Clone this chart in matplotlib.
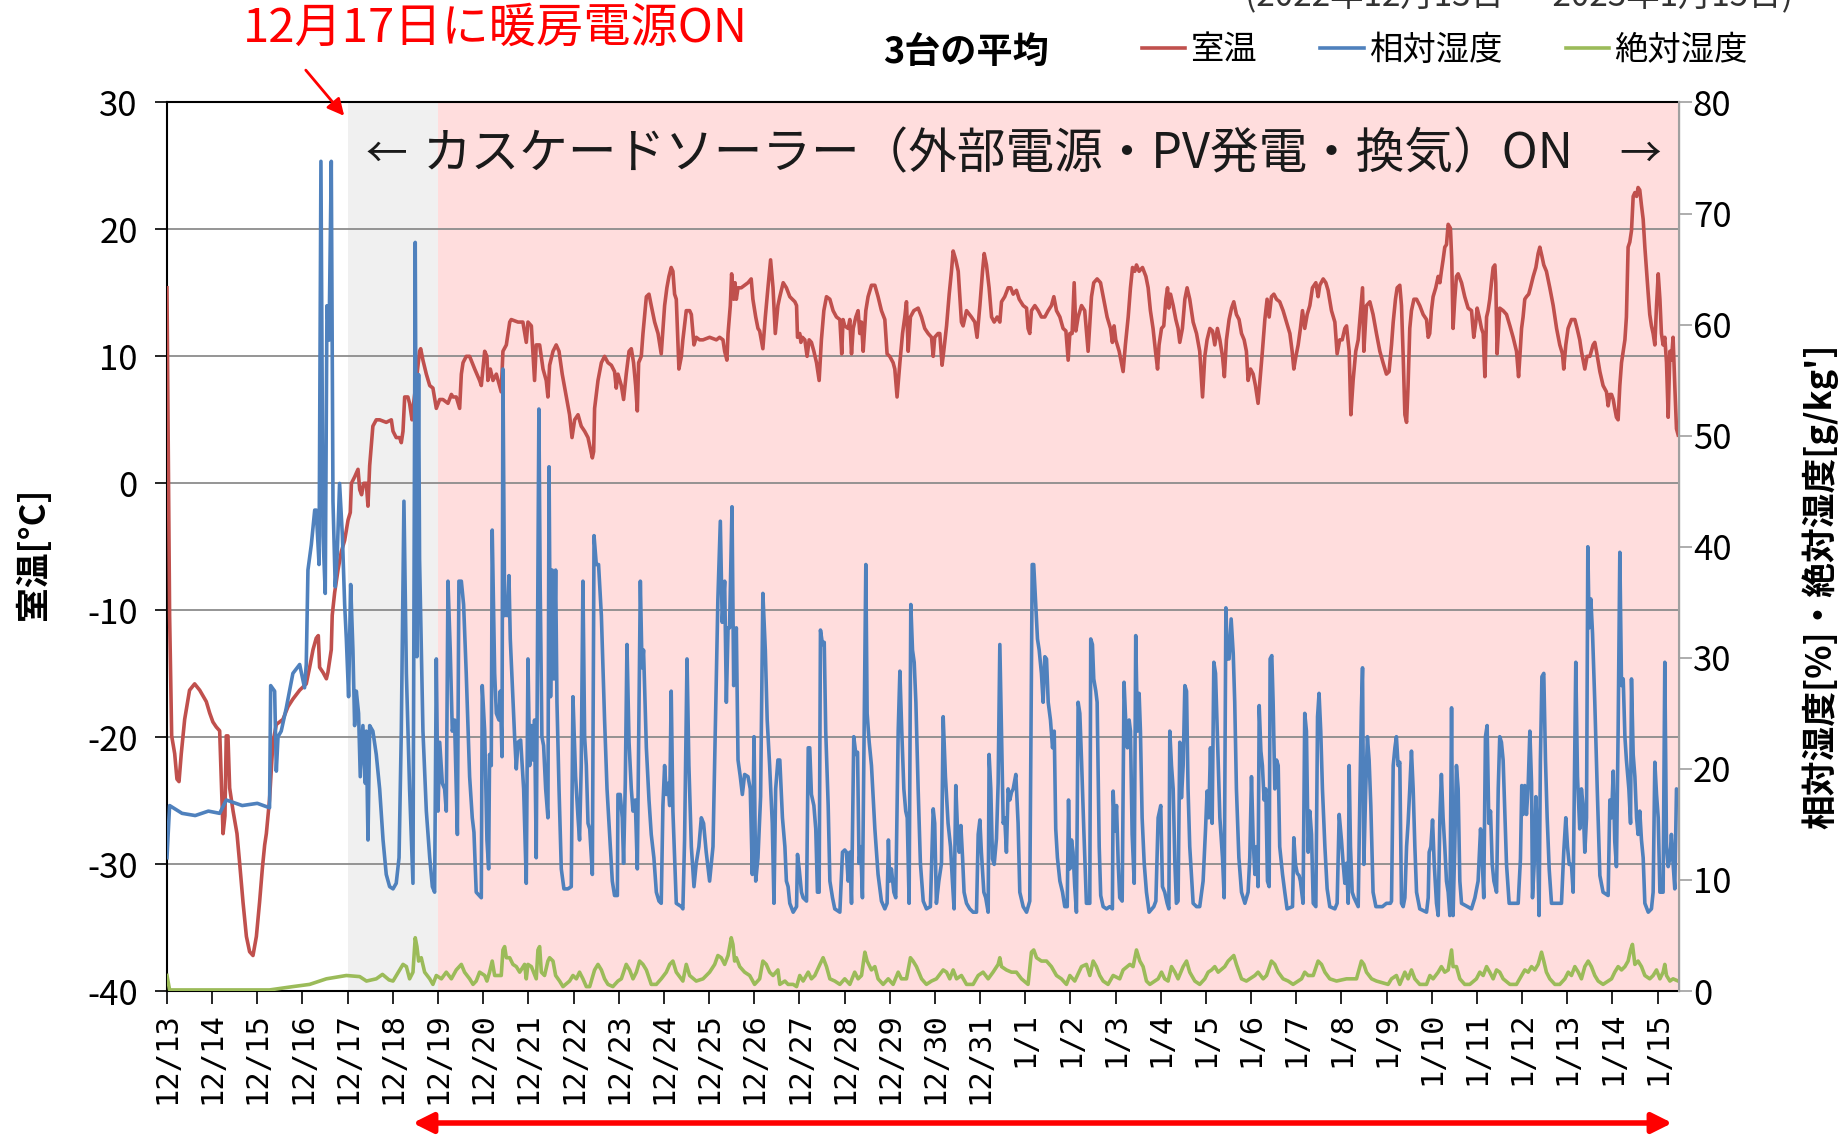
import numpy as np
import matplotlib
matplotlib.use("Agg")
import matplotlib.pyplot as plt

plt.rcParams['font.family'] = ['Noto Sans CJK JP', 'DejaVu Sans']
plt.rcParams['axes.unicode_minus'] = False

# hours since 12/13 00:00, value
temp_pts = [
    (0, 15.4), (1.4, -10.4), (2.5, -19.9), (4.1, -21.3), (5.3, -23.3), (6.4, -23.5), (7.6, -21.3), (9.4, -18.6),
    (12.0, -16.3), (14.7, -15.8), (17.4, -16.3), (20.9, -17.2), (22.7, -18.1), (24.4, -18.8), (26.2, -19.2),
    (28.0, -19.5), (28.5, -21.7), (29.8, -27.6), (30.8, -26.2), (31.5, -19.9), (32.4, -19.9), (33.3, -24.0),
    (35.1, -25.8), (37.2, -27.6), (38.6, -29.9), (40.4, -33.0), (42.2, -35.7), (43.9, -36.9), (45.7, -37.2),
    (47.5, -35.7), (49.2, -33.0), (50.7, -30.3), (51.9, -28.5), (52.8, -27.6), (54.5, -24.9), (56.3, -20.4),
    (58.1, -19.0), (61.6, -18.6), (64.3, -17.6), (66.9, -17.0), (70.5, -16.3), (74.0, -15.8), (75.8, -14.5),
    (77.6, -13.1), (79.3, -12.2), (80.4, -12.0), (81.1, -14.5), (82.9, -14.9), (84.7, -15.4), (85.5, -14.9),
    (87.3, -13.1), (87.8, -10.4), (89.1, -8.6), (90.9, -6.8), (92.6, -5.4), (94.4, -4.5), (96.2, -2.9),
    (97.4, -2.3), (98.0, 0.0), (99.7, 0.5), (101.5, 1.1), (102.4, -0.5), (103.4, -0.9), (104.5, 0.0),
    (105.9, 0.0), (106.8, -1.8), (107.7, 1.4), (109.4, 4.5), (111.2, 5.0), (113.0, 5.0), (116.5, 4.8),
    (119.2, 5.0), (120.1, 4.1), (121.8, 3.6), (123.6, 3.6), (124.5, 3.2), (125.4, 4.1), (126.3, 6.8),
    (128.0, 6.8), (128.9, 6.3), (130.2, 5.0), (130.7, 5.9), (132.5, 8.1), (134.2, 10.4), (134.8, 10.6),
    (136.0, 9.7), (137.8, 8.6), (139.6, 7.7), (141.3, 7.5), (143.1, 5.9), (144.9, 6.6), (146.6, 6.6),
    (149.3, 6.3), (151.1, 7.0), (152.0, 6.8), (153.7, 6.8), (155.5, 5.9), (156.4, 8.6), (157.3, 9.5),
    (159.0, 10.0),
    (160.8, 10.0), (163.5, 9.0), (166.1, 8.1), (167.0, 7.7), (168.8, 10.4), (170.0, 10.0), (170.5, 8.1),
    (171.8, 9.0), (173.2, 8.1), (175.0, 8.6), (177.6, 7.2), (178.5, 10.4), (180.3, 10.9), (182.1, 12.7),
    (182.9, 12.9), (186.5, 12.7), (189.1, 12.7), (190.9, 11.1), (191.8, 12.7), (193.6, 12.4), (195.3, 8.1),
    (196.2, 10.9), (198.0, 10.9), (199.8, 9.0), (201.5, 8.1), (202.4, 6.8), (203.3, 9.3), (205.1, 10.4),
    (206.8, 10.9), (208.3, 10.4), (210.0, 8.6), (212.2, 6.8), (213.9, 5.4), (215.2, 3.6), (216.6, 5.0),
    (218.4, 5.4), (220.1, 4.5), (221.9, 4.1), (223.7, 3.6), (226.0, 2.0), (226.7, 2.5), (227.2, 5.9),
    (229.0, 8.1), (230.8, 9.5), (232.5, 10.0), (234.3, 9.5), (236.1, 9.3), (237.8, 8.8), (238.7, 7.5),
    (239.6, 8.6), (241.4, 7.7), (242.6, 6.6), (244.0, 8.6), (245.5, 10.4), (246.7, 10.6), (247.9, 9.5),
    (249.0, 7.7), (249.9, 5.7), (250.6, 9.5), (252.0, 10.0), (252.9, 11.8), (254.7, 14.7), (256.1, 14.9),
    (257.3, 14.0), (259.1, 12.7), (260.9, 11.8), (262.6, 10.2), (264.4, 14.0), (265.6, 15.4), (266.7, 16.3),
    (267.9, 17.0), (268.8, 16.7), (269.7, 14.9), (270.6, 14.5), (272.0, 9.0), (273.3, 10.0), (274.1, 11.3),
    (275.9, 13.6), (277.7, 13.6), (278.6, 13.3), (280.0, 10.9), (281.2, 11.5), (283.0, 11.3), (284.8, 11.3),
    (288.3, 11.5), (291.9, 11.3), (293.6, 11.5), (295.4, 11.3), (296.3, 10.4), (297.5, 9.7), (298.1, 11.8),
    (299.3, 14.0), (300.0, 16.5), (301.1, 14.5), (301.8, 15.8), (302.5, 14.5), (303.4, 15.4), (305.1, 15.4),
    (306.9, 15.6), (308.7, 15.8), (310.4, 16.1), (311.3, 14.5), (312.8, 13.1), (314.0, 12.2), (314.9, 12.0),
    (316.6, 10.6), (317.9, 13.1), (319.3, 15.4), (320.7, 17.6), (322.0, 15.4), (323.2, 11.8), (324.6, 14.0),
    (325.6, 14.7), (327.4, 15.8), (329.1, 15.4), (330.9, 14.7), (333.6, 14.3), (334.5, 14.0), (335.0, 11.5),
    (336.2, 11.8), (336.8, 11.1), (337.6, 11.5), (338.9, 11.3), (340.1, 10.0), (341.2, 11.3), (342.4, 11.1),
    (343.7, 10.4), (345.1, 9.5), (346.5, 8.1), (347.7, 11.3), (349.0, 13.6), (350.4, 14.7), (352.2, 14.5),
    (353.9, 13.6), (355.7, 13.1), (357.5, 12.9), (358.5, 10.2), (359.2, 12.9), (360.1, 12.4), (361.9, 12.2),
    (362.8, 12.9), (363.7, 10.2), (364.6, 12.2), (366.0, 13.1), (367.2, 13.6), (368.1, 11.8), (369.0, 12.7),
    (369.9, 10.4), (371.3, 13.6), (372.5, 14.7), (374.3, 15.6), (376.1, 15.6), (377.8, 14.7), (379.6, 13.6),
    (381.4, 12.9), (382.6, 10.2), (384.0, 10.0), (385.8, 9.5), (386.7, 9.0), (387.9, 6.8), (389.4, 9.5),
    (390.8, 11.8), (392.0, 13.1), (392.9, 14.3), (393.8, 10.4), (395.0, 13.1), (396.8, 13.6), (399.1, 13.8),
    (400.9, 13.1), (402.6, 12.2), (404.4, 11.8), (406.2, 11.5), (407.1, 10.0), (407.9, 11.5), (409.7, 11.8),
    (410.6, 11.8), (411.8, 9.3), (412.7, 10.4), (414.2, 12.4), (415.6, 14.9), (416.8, 16.7), (417.7, 18.3),
    (419.1, 17.6), (420.4, 16.7), (422.1, 12.7), (423.0, 12.4), (424.8, 13.6), (427.4, 13.1), (429.2, 12.7),
    (430.4, 11.5), (431.9, 14.0), (433.3, 16.7), (434.2, 18.1), (435.4, 17.2), (436.8, 15.4), (438.1, 13.1),
    (439.5, 12.7), (441.1, 13.1), (442.5, 12.7), (443.4, 14.3), (445.1, 14.7), (446.9, 15.4), (448.3, 15.4),
    (449.6, 14.9), (451.3, 15.2), (452.8, 14.5), (454.9, 14.0), (456.7, 13.8), (457.5, 12.2), (458.4, 11.8),
    (459.3, 13.6), (461.1, 14.0), (462.9, 13.6), (464.6, 13.1), (466.4, 13.1), (468.2, 13.6), (469.9, 14.0),
    (471.2, 14.7), (472.6, 13.6), (474.4, 13.1), (476.1, 12.2), (477.6, 12.0), (478.8, 9.7), (479.7, 11.8),
    (480.9, 11.8), (482.0, 15.8), (482.9, 12.0), (484.1, 13.1), (485.9, 14.0), (487.6, 13.6), (489.4, 10.4),
    (491.2, 14.7), (492.4, 15.8), (494.2, 16.1), (496.0, 15.8), (497.7, 14.5), (499.5, 13.1), (501.3, 12.2),
    (502.3, 11.1), (503.2, 12.4), (504.1, 11.3), (505.9, 10.4), (507.1, 9.5), (508.0, 8.8), (509.2, 10.9),
    (510.7, 13.1), (511.9, 15.4), (513.0, 17.0), (514.2, 16.7), (515.1, 17.2), (516.5, 16.7), (518.3, 17.0),
    (520.1, 16.3), (521.3, 15.4), (522.5, 13.6), (523.9, 12.2), (525.2, 10.4), (526.3, 9.0), (527.1, 10.9),
    (528.4, 12.2), (529.6, 12.4), (530.7, 14.5), (531.6, 15.4), (532.3, 13.8), (533.2, 14.9), (534.6, 14.0),
    (536.0, 12.9), (537.2, 12.2), (538.1, 11.1), (539.5, 12.2), (540.8, 14.5), (542.0, 15.4), (543.4, 14.5),
    (545.2, 12.7), (547.0, 11.8), (548.7, 10.4), (550.2, 6.8), (551.4, 10.0), (552.6, 11.3), (554.1, 12.2),
    (555.5, 12.0), (556.7, 10.9), (558.1, 12.2), (559.4, 11.3), (560.8, 10.0), (561.8, 8.4), (562.9, 11.3),
    (564.3, 12.9), (565.6, 13.8), (566.8, 14.3), (568.2, 13.3), (569.6, 12.9), (570.9, 11.8), (572.3, 11.3),
    (573.5, 10.4), (574.4, 8.1), (575.7, 9.0), (577.1, 8.6), (578.3, 7.7), (579.7, 6.3), (581.0, 8.6),
    (582.0, 10.4), (583.3, 12.9), (584.5, 14.5), (585.6, 13.1), (586.8, 14.7), (588.1, 14.9), (589.5, 14.5),
    (591.2, 14.3), (593.0, 13.6), (594.8, 12.7), (596.6, 11.8), (597.8, 10.4), (598.7, 9.0), (599.8, 10.0),
    (601.0, 10.9), (602.2, 12.2), (603.3, 13.6), (604.5, 12.2), (605.8, 13.3), (607.2, 14.0), (608.6, 15.4),
    (610.4, 15.8), (611.6, 14.7), (612.5, 15.6), (614.3, 16.1), (615.7, 15.8), (616.9, 15.2), (618.7, 13.6),
    (620.5, 12.7), (621.7, 10.2), (623.1, 11.3), (624.4, 11.3), (625.8, 12.2), (626.7, 12.4), (628.1, 10.4),
    (629.0, 5.4), (630.2, 8.1), (631.6, 10.4), (632.9, 11.3), (633.8, 12.9), (635.2, 15.4), (635.9, 10.4),
    (637.3, 14.0), (639.1, 14.3), (640.8, 13.3), (642.6, 11.8), (644.4, 10.4), (646.1, 9.5), (647.9, 8.6),
    (649.3, 8.8),
    (650.6, 10.9), (651.5, 12.7), (652.7, 14.5), (653.6, 15.4), (655.0, 15.6), (655.9, 14.0), (656.8, 10.0),
    (657.7, 5.4), (658.6, 4.8), (659.4, 7.7), (660.3, 12.2), (661.2, 13.6), (662.5, 14.5), (663.9, 14.5),
    (665.6, 14.0), (667.4, 13.3), (669.2, 12.9), (670.1, 11.5), (670.9, 11.8), (671.8, 13.6), (672.7, 14.7),
    (674.1, 15.4), (675.4, 16.3), (676.3, 15.8), (677.1, 16.7), (678.0, 17.6), (678.9, 18.6), (679.8, 18.8),
    (680.7, 20.4), (681.9, 20.1), (682.6, 17.6), (683.3, 12.2), (684.2, 14.5), (685.1, 16.3), (686.0, 16.5),
    (687.8, 15.8), (689.5, 14.7), (691.3, 13.8), (693.1, 13.6), (694.3, 11.5), (695.4, 12.7), (696.1, 13.8),
    (697.2, 13.1), (698.4, 12.2), (699.3, 11.8), (700.2, 8.4), (701.1, 13.1), (701.9, 13.6), (702.8, 14.5),
    (703.7, 15.8), (704.6, 17.0), (705.5, 17.2), (706.0, 15.8), (706.7, 10.2), (708.1, 13.8), (709.9, 13.6),
    (711.7, 13.3), (713.5, 12.4), (715.2, 11.5), (717.0, 10.4), (718.1, 8.4), (718.8, 10.0), (719.7, 12.2),
    (720.5, 13.1), (721.4, 14.5), (722.3, 14.7), (723.5, 14.9), (724.4, 15.4), (725.9, 16.3), (727.3, 17.0),
    (728.5, 18.1), (729.4, 18.6), (730.5, 17.9), (731.5, 17.2), (732.9, 16.7), (734.7, 15.4), (736.5, 14.0),
    (738.3, 12.2), (740.0, 10.9), (741.4, 10.2), (742.1, 9.0), (743.2, 10.9), (744.4, 12.2), (746.2, 12.9),
    (748.0, 12.9), (749.2, 12.2), (750.6, 11.3), (751.5, 10.4), (752.4, 9.7), (753.3, 9.0), (754.5, 10.0),
    (756.0, 10.0), (757.7, 10.9), (758.6, 11.1), (759.5, 10.4), (761.3, 8.8), (763.0, 7.7), (764.8, 7.2),
    (765.7, 6.1), (766.6, 7.0), (767.5, 7.0), (768.4, 6.6), (769.2, 5.9), (770.1, 5.2), (771.0, 5.0),
    (771.9, 7.7), (772.8, 9.5), (773.7, 10.4), (774.6, 11.3), (775.4, 13.1), (776.3, 18.6), (777.2, 19.0),
    (778.1, 19.9), (779.0, 22.6), (779.9, 22.9), (780.8, 22.6), (781.6, 23.3), (782.5, 23.1), (783.4, 21.9),
    (784.3, 20.8), (785.2, 18.6), (786.1, 16.7), (787.0, 14.9), (787.8, 13.3), (788.7, 12.4), (789.6, 11.8),
    (790.5, 10.9), (791.4, 14.0), (792.3, 16.5), (793.2, 14.5), (794.0, 11.8), (794.9, 10.9), (795.8, 11.5),
    (796.7, 9.5), (797.6, 5.2), (798.5, 10.4), (799.3, 9.7), (800.2, 11.5), (801.1, 7.7), (802.0, 4.3),
    (802.9, 3.8),
]

rh_pts = [
    (0, 12.0), (1.4, 16.7), (8, 16.0), (15, 15.8), (22, 16.2), (28, 16.0), (31.5, 17.2), (40, 16.7), (48, 16.9),
    (54.5, 16.5), (55.1, 27.5), (57.2, 27.0), (58.1, 19.8), (59.0, 22.9), (60.7, 23.4), (63.4, 25.5),
    (66.9, 28.6), (70.5, 29.4), (73.1, 27.3), (74.0, 29.4), (74.9, 37.9), (76.7, 40.2), (78.5, 43.3),
    (79.3, 43.3), (80.8, 38.4), (81.8, 74.7), (82.9, 41.0), (84.1, 35.8), (85.0, 61.7), (86.1, 58.6),
    (87.3, 74.7), (88.2, 44.1), (89.4, 36.4), (90.5, 39.5), (91.7, 45.7), (93.2, 41.0), (94.4, 34.8),
    (95.3, 31.7), (96.5, 26.5), (97.6, 36.6), (98.8, 30.7), (99.7, 23.9), (100.6, 27.0), (101.8, 25.0),
    (102.7, 19.3), (104.1, 23.9), (105.4, 18.7), (105.9, 23.4), (106.8, 13.6), (107.7, 23.9), (109.4, 23.4),
    (111.2, 21.3), (113.0, 18.2), (114.8, 13.6), (116.5, 10.5), (118.3, 9.4), (120.1, 9.2), (121.8, 9.7),
    (123.3, 12.0), (124.5, 23.4), (125.9, 44.1), (127.2, 28.6), (128.9, 18.2), (130.7, 9.7), (131.9, 67.4),
    (132.8, 30.1), (133.7, 55.5), (134.2, 38.9), (136.0, 23.4), (137.8, 16.2), (139.6, 12.0), (141.0, 9.4),
    (142.2, 8.9), (143.1, 29.9), (144.0, 16.2), (144.9, 22.4), (146.3, 18.7), (147.5, 18.2), (148.4, 16.2),
    (149.3, 36.9), (150.5, 30.7), (151.6, 23.4), (152.8, 24.4), (154.3, 14.1), (155.1, 36.9), (156.4, 36.9),
    (157.6, 34.8), (159.0, 28.6),
    (160.8, 19.3), (162.2, 15.6), (163.1, 14.3), (164.3, 8.9), (167.0, 8.4), (167.5, 27.5), (168.8, 23.4),
    (170.0, 13.6), (170.9, 11.0), (171.4, 21.3), (172.3, 20.3), (172.8, 41.5), (174.1, 28.6), (175.0, 25.0),
    (176.4, 24.4), (177.1, 27.0), (178.0, 21.1), (178.5, 56.0), (179.4, 33.8), (180.3, 34.8), (180.8, 33.8),
    (181.7, 37.4), (182.4, 31.7), (183.5, 27.5), (184.7, 22.9), (185.6, 20.0), (186.5, 22.4), (187.9, 22.6),
    (189.5, 18.2), (190.9, 9.7), (191.8, 29.9), (192.7, 20.3), (193.6, 23.9), (194.5, 20.8), (195.3, 24.4),
    (196.2, 12.0), (197.6, 52.4), (198.3, 36.4), (199.2, 22.9), (200.1, 22.1), (201.2, 18.2), (202.4, 15.6),
    (203.0, 47.2), (203.8, 26.5), (204.7, 37.9), (205.6, 28.1), (206.5, 37.9), (207.2, 26.0), (208.3, 18.2),
    (209.5, 11.0), (210.9, 9.2), (213.0, 9.2), (214.8, 9.4), (215.7, 26.5), (217.1, 19.3), (218.4, 15.6),
    (219.2, 13.6), (220.1, 20.3), (221.0, 36.9), (221.9, 22.9), (222.8, 20.3), (223.7, 15.1), (224.6, 14.6),
    (226.0, 10.5), (226.9, 41.0), (228.1, 38.4), (229.3, 38.4), (230.8, 33.8), (232.5, 24.4), (233.8, 18.2),
    (235.2, 14.1), (236.6, 9.9), (237.8, 8.6), (239.3, 8.6), (239.6, 17.7), (240.8, 17.7), (241.9, 15.6),
    (242.6, 11.5), (243.5, 18.7), (244.4, 31.2), (245.5, 22.4), (246.7, 18.2), (247.6, 16.2), (248.8, 17.2),
    (249.9, 11.0), (250.8, 26.0), (251.5, 36.9), (252.4, 29.1), (253.2, 30.7), (254.7, 21.9), (256.1, 17.2),
    (257.3, 14.1), (258.7, 12.0), (260.0, 8.9), (261.4, 8.1), (262.6, 7.9), (263.5, 16.7), (264.4, 20.3),
    (265.3, 17.7), (266.2, 18.7), (267.1, 16.7), (267.9, 27.0), (268.8, 16.2), (270.6, 7.9), (273.3, 7.6),
    (274.1, 7.4), (275.0, 13.6), (276.3, 29.9), (277.3, 20.3), (278.6, 13.0), (280.0, 9.4), (281.2, 11.5),
    (282.6, 13.0), (283.9, 15.6), (285.1, 15.1), (286.5, 12.5), (288.3, 9.9), (290.1, 13.0), (291.3, 23.4),
    (292.7, 35.3), (294.0, 42.3), (295.0, 33.2), (296.3, 36.9), (297.2, 26.0), (298.1, 32.7), (298.9, 32.7),
    (300.2, 43.6), (301.1, 27.5), (302.5, 32.7), (303.4, 20.8), (304.6, 19.3), (305.7, 17.7), (306.9, 19.5),
    (308.7, 19.3), (309.9, 18.2), (311.0, 10.5), (311.9, 22.9), (312.8, 9.9), (314.0, 12.0), (315.4, 17.5),
    (316.6, 35.8), (317.9, 30.7), (318.9, 24.4), (320.2, 20.3), (321.6, 15.1), (322.5, 7.9), (323.4, 18.2),
    (324.6, 20.8),
    (325.6, 20.8), (327.0, 15.6), (328.3, 13.0), (329.1, 9.9), (330.0, 9.4), (330.9, 7.9), (332.7, 7.1),
    (334.5, 7.6), (335.0, 12.3), (335.9, 11.0), (337.1, 8.9), (338.0, 8.4), (339.8, 8.1), (340.7, 21.9),
    (341.5, 21.9), (342.4, 17.7), (343.7, 16.7), (344.7, 14.6), (345.6, 8.9), (346.5, 8.9), (347.2, 32.5),
    (348.3, 31.2), (349.2, 31.4), (350.0, 23.4), (351.3, 16.7), (352.2, 9.9), (353.6, 8.4), (354.8, 7.4),
    (357.5, 7.1), (358.9, 12.5), (360.1, 12.7), (361.0, 12.5), (361.9, 9.9), (362.8, 12.5), (363.7, 7.9),
    (364.9, 22.9), (366.0, 21.3), (366.9, 21.5), (367.7, 11.5), (368.6, 13.0), (369.5, 8.4), (370.4, 23.4),
    (371.3, 38.4), (372.0, 25.0), (373.1, 22.4), (374.3, 20.3), (376.1, 14.6), (377.8, 10.5), (379.6, 8.1),
    (381.4, 7.4), (382.6, 7.9), (383.3, 13.6), (384.0, 9.9), (384.9, 11.0), (386.2, 8.9), (387.2, 8.4),
    (388.5, 23.4), (389.4, 28.8), (390.4, 23.4), (391.5, 18.2), (392.5, 16.2), (393.3, 15.6), (394.3, 7.9),
    (395.2, 34.8), (396.1, 30.7), (397.0, 29.6), (397.9, 26.0), (399.1, 18.2), (400.3, 11.5), (401.8, 8.1),
    (403.5, 7.4), (405.6, 7.6), (407.1, 16.4), (407.9, 15.1), (408.8, 7.9), (410.1, 9.9), (411.5, 11.5),
    (412.4, 24.7), (413.6, 19.3), (415.0, 15.1), (416.3, 13.0), (417.3, 9.9), (418.2, 7.4), (419.1, 18.5),
    (420.0, 14.6), (420.9, 12.5), (421.8, 14.9), (422.7, 12.0), (423.5, 8.9), (424.8, 7.9), (426.5, 7.4),
    (428.3, 7.1), (430.1, 7.1), (431.0, 14.1), (431.9, 15.4), (432.7, 12.5), (434.0, 8.9), (435.0, 8.4),
    (436.3, 7.1), (436.8, 21.3), (437.7, 18.2), (438.6, 11.9), (439.5, 11.4), (440.7, 13.7), (441.6, 18.7),
    (442.5, 31.2), (443.4, 23.4), (444.3, 15.1), (445.1, 15.6), (446.0, 12.5), (446.9, 18.2), (447.8, 17.2),
    (448.7, 17.9), (449.6, 18.2), (451.0, 19.5), (452.2, 15.1), (453.1, 8.9), (454.9, 7.6), (456.7, 7.1),
    (458.4, 8.1), (459.7, 38.4), (460.5, 38.4), (461.6, 34.8), (462.5, 31.7), (463.4, 30.7), (464.6, 28.6),
    (465.5, 26.0), (466.4, 30.1), (467.3, 29.9), (468.2, 26.0), (469.4, 24.4), (470.5, 21.9), (471.4, 23.4),
    (472.2, 14.6), (473.1, 12.0), (474.4, 9.9), (475.8, 8.9), (477.0, 7.6), (478.3, 7.6), (479.0, 17.2),
    (479.7, 11.0), (480.6, 13.6), (481.4, 12.5), (482.3, 9.4), (483.2, 7.1), (484.1, 26.0), (485.0, 25.0),
    (485.9, 20.8), (487.1, 14.6), (488.5, 7.9), (489.4, 7.9),
    (490.3, 7.9), (490.8, 31.7), (491.7, 31.2), (492.4, 28.1), (493.5, 27.0), (494.2, 26.0), (495.3, 13.0),
    (496.1, 8.6), (497.4, 7.6), (499.2, 7.4), (500.9, 7.6), (502.3, 7.4), (502.7, 18.0), (503.6, 14.4),
    (504.5, 16.7), (505.4, 11.5), (506.2, 8.4), (507.5, 8.1), (508.5, 27.8), (509.4, 24.2), (510.3, 21.9),
    (511.2, 24.4), (511.9, 23.4), (512.8, 14.1), (513.9, 9.7), (514.7, 32.0), (515.6, 23.4), (516.5, 26.8),
    (517.2, 23.4), (518.1, 15.6), (519.2, 11.5), (520.4, 8.9), (521.8, 7.1), (524.3, 7.6), (525.4, 8.1),
    (526.6, 15.6), (528.0, 16.7), (528.9, 9.4), (530.1, 8.9), (531.4, 7.9), (532.3, 7.4), (532.8, 23.4),
    (533.7, 20.3), (534.6, 18.2), (535.5, 11.5), (536.3, 7.9), (537.2, 8.1), (538.1, 22.4), (539.0, 17.4),
    (539.9, 20.3), (540.8, 27.5), (541.7, 27.0), (542.5, 18.2), (543.4, 13.0), (544.3, 10.5), (545.2, 7.9),
    (547.0, 7.6), (548.7, 7.6), (550.5, 9.9), (551.8, 14.6), (552.6, 18.0), (553.5, 15.6), (554.4, 21.9),
    (555.3, 15.1), (556.2, 29.6), (557.1, 28.6), (558.0, 23.4), (559.4, 15.6), (560.8, 12.0), (561.7, 8.4),
    (562.6, 34.5), (563.4, 29.9), (564.3, 29.9), (565.4, 33.5), (566.5, 30.4), (567.3, 26.0), (568.2, 18.2),
    (569.5, 12.0), (570.9, 8.9), (572.7, 7.9), (574.4, 8.9), (575.3, 12.0), (576.2, 19.3), (577.1, 13.6),
    (578.0, 10.5), (578.9, 13.0), (579.7, 9.4), (580.3, 25.7), (581.2, 21.6), (582.0, 20.3), (582.9, 17.2),
    (583.8, 18.2), (584.7, 9.9), (585.6, 9.4), (586.1, 29.9), (587.0, 30.2), (587.7, 26.0), (588.6, 18.2),
    (589.5, 20.8), (590.4, 20.3), (591.2, 13.0), (592.7, 10.5), (593.9, 8.9), (595.1, 7.4), (598.0, 7.6),
    (598.7, 13.8), (599.6, 11.4), (600.5, 10.6), (601.5, 10.4), (602.2, 9.9), (603.6, 7.9), (604.5, 25.0),
    (605.4, 23.4), (606.3, 12.5), (607.2, 16.2), (608.1, 14.1), (609.0, 7.9), (610.4, 7.6), (611.3, 24.7),
    (612.1, 26.8), (613.0, 23.4), (613.9, 18.2), (615.2, 13.0), (616.4, 9.2), (617.8, 7.6), (620.5, 7.4),
    (621.7, 7.9), (622.8, 15.9), (624.0, 13.6), (624.9, 11.5), (625.8, 9.7), (626.7, 11.5), (627.6, 7.9),
    (628.1, 20.3), (628.8, 13.0), (629.7, 8.9), (630.7, 8.4), (632.9, 7.6), (633.8, 17.7), (634.6, 25.5),
    (635.2, 29.1), (635.9, 11.4), (636.9, 18.2), (637.8, 22.9), (638.7, 20.8), (639.6, 16.7), (640.8, 8.9),
    (642.3, 7.6), (645.8, 7.6), (647.9, 7.9), (650.0, 7.9),
    (650.6, 8.1), (651.5, 20.3), (652.4, 21.9), (653.2, 22.9), (654.1, 20.3), (655.0, 20.6), (655.9, 7.9),
    (656.8, 7.6), (657.7, 8.4), (658.6, 13.0), (659.4, 15.1), (660.3, 18.2), (661.2, 21.6), (662.1, 18.2),
    (663.0, 13.0), (663.9, 8.9), (665.6, 7.4), (669.2, 7.1), (670.1, 8.4), (670.6, 12.5), (671.5, 13.0),
    (672.4, 15.4), (673.3, 11.4), (674.5, 7.9), (675.4, 6.8), (676.3, 15.6), (677.1, 19.5), (678.0, 15.6),
    (678.9, 13.0), (679.8, 9.9), (680.7, 8.9), (681.6, 6.8), (682.5, 25.5), (683.3, 6.8), (684.2, 13.0),
    (685.1, 20.3), (686.0, 18.2), (686.9, 9.9), (687.8, 7.9), (693.1, 7.4), (694.9, 8.4), (696.6, 9.9),
    (697.9, 14.6), (698.9, 11.4), (699.6, 8.4), (700.5, 22.9), (701.4, 23.9), (702.3, 15.1), (703.2, 16.2),
    (704.1, 11.4), (705.0, 9.9), (706.4, 8.9), (707.3, 18.2), (708.1, 22.9), (709.0, 22.4), (709.9, 20.8),
    (710.8, 16.2), (711.7, 11.4), (713.1, 7.9), (717.9, 7.9), (719.1, 11.9), (719.8, 18.5), (720.5, 15.9),
    (721.4, 18.5), (722.3, 15.9), (723.2, 18.5), (724.1, 23.4), (725.0, 18.7), (725.5, 8.4), (726.4, 11.4),
    (727.3, 17.5), (728.2, 13.0), (729.0, 6.8), (729.7, 20.8), (730.5, 28.3), (731.5, 28.6), (732.4, 20.8),
    (733.3, 15.6), (734.4, 10.9), (735.6, 7.9), (740.9, 7.9), (742.1, 12.5), (743.2, 15.6), (744.1, 13.0),
    (745.0, 11.4), (746.2, 11.4), (747.1, 8.9), (748.0, 21.9), (748.5, 29.6), (749.4, 19.3), (750.6, 14.6),
    (751.5, 18.2), (752.4, 16.7), (753.3, 12.5), (754.2, 15.6), (754.9, 40.0), (755.6, 32.7), (756.5, 35.3),
    (757.4, 32.2), (758.6, 26.0), (759.9, 18.2), (761.3, 10.4), (763.0, 8.9), (765.7, 8.6), (766.6, 17.2),
    (767.5, 15.6), (768.4, 19.8), (769.2, 13.5), (770.1, 11.2), (771.0, 23.4), (771.9, 39.5), (772.8, 27.5),
    (773.7, 28.1), (774.6, 22.9), (775.4, 20.8), (776.7, 18.2), (777.6, 15.1), (778.1, 28.1), (779.0, 21.3),
    (779.9, 19.3), (780.8, 15.6), (781.6, 14.1), (782.5, 16.2), (783.4, 13.6), (784.3, 12.0), (785.2, 7.9),
    (787.0, 7.1), (788.7, 7.4), (789.6, 8.9), (790.5, 20.6), (791.4, 17.7), (792.3, 15.6), (793.2, 8.9),
    (794.9, 8.9), (795.8, 29.6), (796.7, 13.0), (797.6, 11.2), (798.5, 12.0), (799.3, 14.1), (800.2, 11.5),
    (801.1, 9.2), (802.0, 18.2), (802.9, 18.0),
]

ah_pts = [
    (0, 1.4), (1.4, 0.1), (54.5, 0.1), (66.9, 0.4), (75.8, 0.6), (84.7, 1.1), (95.3, 1.4), (102.4, 1.3),
    (106.0, 0.9), (111.2, 1.1), (114.5, 1.5), (118.0, 1.0), (120.1, 0.9), (125.4, 2.4), (127.2, 2.2),
    (128.9, 1.1), (130.7, 1.7), (131.9, 4.8),
    (132.8, 4.0), (133.7, 2.7), (135.1, 3.0), (136.9, 1.7), (139.6, 1.1), (141.3, 0.6), (143.1, 1.4),
    (145.8, 1.1), (148.4, 1.7), (151.1, 1.1), (153.7, 1.9), (156.4, 2.4), (158.1, 1.7),
    (160.8, 1.1), (162.6, 0.6), (164.3, 0.9), (166.1, 1.7), (168.8, 1.4), (170.0, 0.9), (171.4, 1.7),
    (172.8, 2.7), (174.1, 1.4), (177.6, 1.4), (178.5, 3.7), (179.4, 4.0), (180.3, 3.0), (182.1, 3.0),
    (183.8, 2.4), (185.6, 2.2), (187.4, 1.7), (190.0, 2.4), (190.9, 1.1), (191.8, 2.4), (193.6, 2.2),
    (196.2, 1.1), (197.1, 3.7), (198.0, 4.0), (198.9, 1.7), (200.6, 1.4), (202.4, 2.7), (203.3, 3.0),
    (205.1, 2.7), (206.5, 1.4), (208.6, 0.9), (210.4, 0.4), (213.9, 0.9), (215.7, 1.4), (217.5, 1.1),
    (219.2, 1.7), (221.0, 1.1), (222.8, 0.4), (224.6, 0.4), (227.2, 1.9), (229.0, 2.4), (230.8, 1.9),
    (232.5, 1.1), (234.3, 0.6), (236.9, 0.4), (239.6, 0.9), (241.4, 1.1), (244.0, 2.4), (245.8, 1.9),
    (247.6, 1.1), (249.4, 1.7), (251.1, 2.7), (252.9, 2.4), (254.7, 1.9), (257.3, 0.6), (260.0, 0.6),
    (262.6, 1.1), (265.3, 1.7), (267.1, 2.4), (268.8, 2.7), (270.6, 1.7), (274.1, 0.9), (275.9, 2.4),
    (277.7, 1.4), (281.2, 0.9), (284.8, 1.1), (288.3, 1.7), (291.0, 2.4), (292.7, 3.2), (294.5, 3.0),
    (296.3, 2.4), (298.1, 3.2), (299.8, 4.8), (300.7, 4.2), (301.6, 2.7), (302.5, 3.0), (304.3, 2.2),
    (306.9, 1.7), (309.6, 1.4), (312.2, 0.6), (314.9, 1.1), (316.6, 2.7), (318.4, 2.4), (320.2, 1.7),
    (322.0, 1.4), (324.6, 1.9),
    (325.6, 0.6), (328.3, 0.9), (330.0, 0.6), (332.7, 0.6), (334.5, 0.4), (336.2, 1.4), (338.0, 0.9),
    (340.7, 1.7), (342.4, 1.1), (344.2, 1.4), (346.9, 2.4), (348.6, 3.0), (350.4, 2.2), (352.2, 1.1),
    (354.8, 0.9), (357.5, 0.6), (360.1, 1.1), (362.8, 0.6), (365.4, 1.7), (367.2, 1.1), (369.0, 1.4),
    (370.8, 3.5), (372.0, 2.7), (374.3, 1.9), (376.1, 2.2), (377.8, 1.1), (380.5, 0.6), (383.2, 1.1),
    (385.8, 0.6), (388.5, 1.7), (390.2, 1.1), (392.9, 1.1), (395.0, 3.0), (396.4, 2.7), (398.2, 2.2),
    (400.9, 1.1), (403.5, 0.6), (406.2, 0.9), (408.8, 1.1), (412.4, 1.9), (414.2, 1.7), (415.9, 1.1),
    (417.7, 1.9), (419.5, 1.1), (422.1, 1.4), (424.8, 0.6), (428.3, 0.6), (431.0, 1.4), (433.6, 1.7),
    (436.3, 1.1), (438.9, 1.7), (441.6, 2.4), (442.5, 3.0), (443.4, 2.2), (446.0, 1.9), (448.7, 1.7),
    (451.3, 1.7), (454.0, 1.1), (457.5, 0.6), (459.3, 3.5), (460.5, 3.7), (462.0, 3.0), (464.6, 2.7),
    (467.3, 2.7), (469.9, 2.2), (472.6, 1.4), (475.2, 1.1), (477.9, 0.6), (479.7, 1.4), (482.3, 0.9),
    (485.9, 2.2), (488.5, 2.4),
    (490.3, 1.4), (492.1, 2.7), (493.8, 2.2), (495.6, 1.4), (497.4, 0.9), (500.0, 0.6), (502.7, 1.4),
    (506.2, 1.1), (508.0, 1.9), (511.6, 2.4), (513.3, 2.2), (515.1, 3.7), (516.9, 2.7), (518.6, 2.2),
    (520.4, 0.9), (522.2, 0.6), (526.6, 1.1), (528.4, 1.7), (530.1, 1.1), (531.9, 0.9), (533.7, 2.2),
    (535.5, 1.7), (537.2, 1.1), (539.9, 2.2), (541.7, 2.7), (543.4, 1.7), (546.1, 0.9), (548.7, 0.6),
    (551.4, 1.1), (553.2, 1.7), (555.0, 1.9), (556.7, 2.2), (558.5, 1.7), (562.0, 2.2), (563.8, 2.7),
    (565.6, 3.0), (566.8, 3.2), (568.2, 2.4), (570.9, 1.1), (573.5, 0.9), (578.0, 1.4), (579.7, 1.7),
    (582.4, 1.1), (584.2, 1.4), (586.8, 2.7), (588.6, 2.4), (590.4, 1.7), (593.0, 1.1), (595.7, 0.9),
    (598.3, 0.6), (602.8, 1.1), (604.5, 1.7), (606.3, 1.4), (609.0, 1.4), (611.6, 2.7), (613.4, 2.4),
    (615.2, 1.7), (617.8, 1.1), (621.4, 0.9), (626.7, 1.1), (632.0, 1.1), (634.6, 2.7), (635.9, 2.4),
    (637.3, 1.7), (640.0, 1.1), (642.6, 0.9), (648.8, 0.6), (650.6, 1.1),
    (653.2, 1.4), (655.0, 0.6), (657.7, 1.7), (659.4, 1.1), (661.2, 1.9), (663.0, 1.1), (665.6, 0.6),
    (669.2, 0.6), (671.0, 1.4), (672.7, 1.1), (675.4, 1.7), (677.1, 2.2), (678.9, 1.7), (680.7, 1.9),
    (682.5, 3.7), (683.3, 2.2), (685.1, 2.2), (686.9, 1.1), (689.5, 0.6), (692.2, 0.6), (695.7, 1.1),
    (697.5, 1.7), (699.3, 1.4), (701.1, 2.2), (702.8, 1.7), (704.6, 1.1), (706.4, 1.9), (708.1, 1.7),
    (709.9, 1.1), (713.5, 0.6), (717.0, 0.6), (719.7, 1.4), (721.4, 1.9), (723.2, 1.7), (725.0, 2.2),
    (726.7, 1.9), (728.5, 2.4), (730.3, 3.5), (731.5, 2.7), (732.9, 1.7), (734.7, 1.1), (737.4, 0.6),
    (740.0, 0.6), (742.7, 1.1), (744.5, 1.7), (746.2, 1.4), (748.0, 2.2), (749.8, 1.7), (751.5, 1.1),
    (753.3, 2.2), (755.1, 2.7), (756.8, 2.2), (758.6, 1.4), (760.4, 0.9), (763.0, 0.6), (765.7, 0.9),
    (767.5, 1.1), (769.2, 1.7), (771.0, 2.2), (772.8, 1.9), (774.6, 2.2), (776.3, 2.7), (777.6, 3.7),
    (778.6, 4.2), (779.9, 2.4), (781.6, 2.7), (783.4, 2.2), (785.2, 1.4), (787.8, 1.1), (789.6, 1.4),
    (791.4, 1.9), (793.2, 1.1), (794.9, 1.7), (795.8, 2.4), (796.7, 1.4), (798.5, 0.9), (800.2, 1.1),
    (802.9, 0.9),
]

day_labels = ['12/13', '12/14', '12/15', '12/16', '12/17', '12/18', '12/19', '12/20', '12/21', '12/22',
              '12/23', '12/24', '12/25', '12/26', '12/27', '12/28', '12/29', '12/30', '12/31',
              '1/1', '1/2', '1/3', '1/4', '1/5', '1/6', '1/7', '1/8', '1/9', '1/10', '1/11', '1/12',
              '1/13', '1/14', '1/15']
series_names = ['室温', '相対湿度', '絶対湿度']
heater_on_h = 96     # 12/17
solar_on_h = 144     # 12/19
end_h = 803.3

RED, BLUE, GREEN = '#C0504D', '#4F81BD', '#9BBB59'

th, tv = zip(*temp_pts)
rh, rv = zip(*rh_pts)
ah, av = zip(*ah_pts)

fig = plt.figure(figsize=(18.47, 11.36), dpi=100)
ax = fig.add_axes([0.0904, 0.1276, 0.8186, 0.7822])
ax2 = ax.twinx()

ax.axvspan(heater_on_h, solar_on_h, color='#F0F0F0', zorder=0, lw=0)
ax.axvspan(solar_on_h, end_h, color='#FFDDDD', zorder=0, lw=0)
ax.grid(axis='y', color='#8C8C8C', lw=1.3, zorder=1)

l1, = ax.plot(th, tv, color=RED, lw=2.6, zorder=3)
l2, = ax2.plot(rh, rv, color=BLUE, lw=2.6)
l3, = ax2.plot(ah, av, color=GREEN, lw=2.6)

ax.set_xlim(0, end_h)
ax.set_ylim(-40, 30)
ax2.set_ylim(0, 80)
ax.set_yticks(range(-40, 31, 10))
ax2.set_yticks(range(0, 81, 10))
ax.set_xticks(np.arange(len(day_labels)) * 24)
ax.set_xticklabels(day_labels, rotation=90, family='DejaVu Sans Mono', fontsize=22)

for lab in ax.get_yticklabels() + ax2.get_yticklabels():
    lab.set_fontsize(25)

ax.tick_params(axis='x', length=9, width=1.2, pad=6, color='black')
ax.tick_params(axis='y', length=9, width=1.2, pad=12, color='black')
ax2.tick_params(axis='y', length=9, width=1.2, pad=1, color='#A0A0A0')

for s in ['left', 'bottom', 'top']:
    ax.spines[s].set_color('black')
    ax.spines[s].set_linewidth(1.5)
ax2.spines['right'].set_color('#A0A0A0')
ax2.spines['right'].set_linewidth(1.5)
for s in ['left', 'bottom', 'top']:
    ax2.spines[s].set_visible(False)

# axis titles
fig.text(33 / 1847, 1 - 554 / 1136, '室温[°C]', rotation=90, fontsize=25, fontweight='bold',
         ha='center', va='center')
fig.text(1820 / 1847, 1 - 586 / 1136, '相対湿度[%]・絶対湿度[g/kg\']', rotation=90, fontsize=25,
         fontweight='bold', ha='center', va='center')

fig.text(966 / 1847, 1 - 53 / 1136, '3台の平均', fontsize=26, fontweight='bold', ha='center', va='center')
# period note, cut off at the top edge as in the source image
fig.text(1245 / 1847, 1 - 5 / 1136, '(2022年12月13日 ～ 2023年1月15日)', fontsize=24, ha='left',
         va='baseline', color='#333333')

fig.legend([l1, l2, l3], series_names, loc='center left', bbox_to_anchor=(1142 / 1847, 1 - 50 / 1136),
           ncol=3, frameon=False, fontsize=24, handlelength=1.3, handletextpad=0.15, columnspacing=1.9,
           borderaxespad=0, borderpad=0)

# heater annotation
fig.text(495 / 1847, 1 - 28 / 1136, '12月17日に暖房電源ON', color='red', fontsize=34, ha='center', va='center')
ax.annotate('', xy=(346 / 1847, 1 - 118 / 1136), xytext=(304 / 1847, 1 - 68 / 1136),
            xycoords='figure fraction', textcoords='figure fraction',
            arrowprops=dict(arrowstyle='-|>', color='red', lw=2, mutation_scale=25))

# solar period text
fig.text(386 / 1847, 1 - 155 / 1136, '←', fontsize=30, ha='center', va='center', color='#1A1A1A')
fig.text(998 / 1847, 1 - 155 / 1136, 'カスケードソーラー（外部電源・PV発電・換気）ON', fontsize=35,
         ha='center', va='center', color='#1A1A1A')
fig.text(1640 / 1847, 1 - 155 / 1136, '→', fontsize=30, ha='center', va='center', color='#1A1A1A')

ax.annotate('', xy=(1675 / 1847, 1 - 1123 / 1136), xytext=(410 / 1847, 1 - 1123 / 1136),
            xycoords='figure fraction', textcoords='figure fraction',
            arrowprops=dict(arrowstyle='<|-|>', color='red', lw=4, mutation_scale=30))

fig.savefig('out.png', dpi=100)
